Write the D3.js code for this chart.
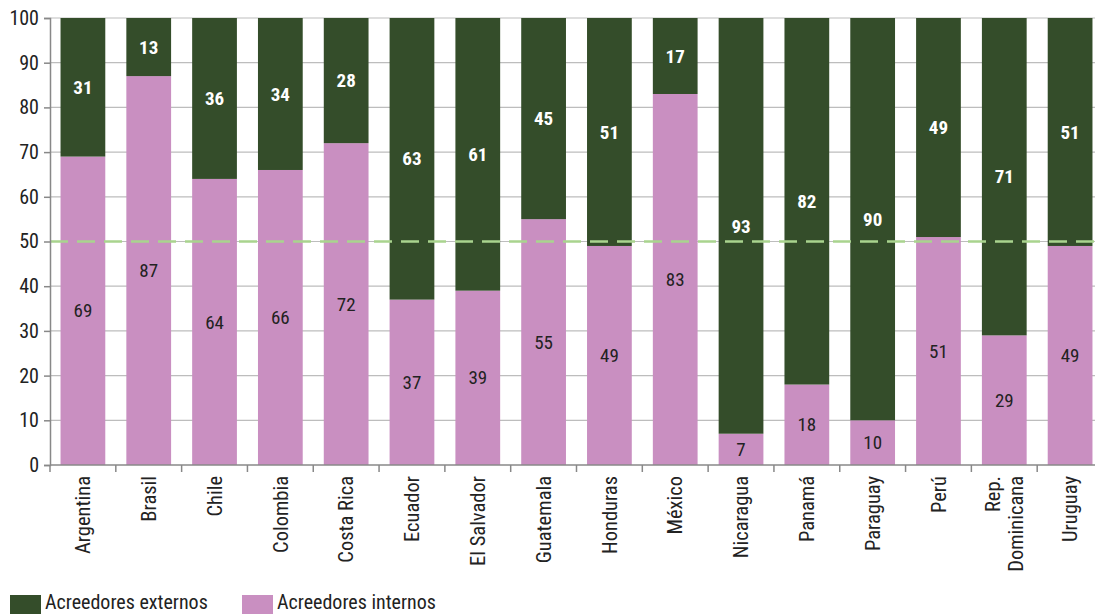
<!DOCTYPE html>
<html><head><meta charset="utf-8">
<script src="https://cdn.jsdelivr.net/npm/d3@7"></script>
<style>body{margin:0;background:#fff}svg{display:block}text{font-family:"Roboto Condensed","Liberation Sans Narrow","DejaVu Sans Condensed",sans-serif}</style>
</head><body><svg id="c" width="1095" height="614"></svg>
<script>
const categories = ["Argentina","Brasil","Chile","Colombia","Costa Rica","Ecuador","El Salvador","Guatemala","Honduras","México","Nicaragua","Panamá","Paraguay","Perú","Rep.|Dominicana","Uruguay"];
const internos = [69,87,64,66,72,37,39,55,49,83,7,18,10,51,29,49];
const externos = [31,13,36,34,28,63,61,45,51,17,93,82,90,49,71,51];
const yTicks = [0,10,20,30,40,50,60,70,80,90,100];
const seriesNames = ["Acreedores externos","Acreedores internos"];
const colors = {ext:"#344d2a", int:"#c98fc1"};

const svg = d3.select("#c");
const x = d3.scaleBand().domain(categories).range([50,1103]).paddingInner(0.32).paddingOuter(0.16);
const y = d3.scaleLinear().domain([0,100]).range([465,18]);

// gridlines
svg.append("g").selectAll("line").data(yTicks.filter(d=>d>0)).join("line")
  .attr("x1",50).attr("x2",1095).attr("y1",d=>y(d)).attr("y2",d=>y(d))
  .attr("stroke","#bdbdbd").attr("stroke-width",1.2);

const data = categories.map((c,i)=>({c, int:internos[i], ext:externos[i]}));
const bars = svg.append("g").selectAll("g").data(data).join("g");
bars.append("rect").attr("x",d=>x(d.c)).attr("width",x.bandwidth())
  .attr("y",d=>y(d.int)).attr("height",d=>y(0)-y(d.int)).attr("fill",colors.int);
bars.append("rect").attr("x",d=>x(d.c)).attr("width",x.bandwidth())
  .attr("y",d=>y(100)).attr("height",d=>y(d.int)-y(100)).attr("fill",colors.ext);
bars.append("text").attr("x",d=>x(d.c)+x.bandwidth()/2).attr("y",d=>y(d.int/2))
  .attr("text-anchor","middle").attr("dy","0.35em").attr("font-size",19).attr("fill","#222")
  .text(d=>d.int);
bars.append("text").attr("x",d=>x(d.c)+x.bandwidth()/2).attr("y",d=>y(d.int+d.ext/2))
  .attr("text-anchor","middle").attr("dy","0.35em").attr("font-size",19).attr("font-weight","bold").attr("fill","#fff")
  .text(d=>d.ext);

// 50% line
svg.append("line").attr("x1",50).attr("x2",1095).attr("y1",y(50)).attr("y2",y(50))
  .attr("stroke","#a9d48e").attr("stroke-width",2.5).attr("stroke-dasharray","18,9");

// y axis
const ya = svg.append("g").attr("transform","translate(50,0)")
  .call(d3.axisLeft(y).tickValues(yTicks).tickSize(6).tickPadding(5));
ya.select(".domain").attr("stroke","#888").attr("stroke-width",1.5);
ya.selectAll(".tick line").attr("stroke","#888").attr("stroke-width",1.5);
ya.selectAll(".tick text").attr("font-size",20).attr("fill","#222")
  .style("font-family",'"Roboto Condensed","Liberation Sans Narrow","DejaVu Sans Condensed",sans-serif');

// x axis
svg.append("line").attr("x1",50).attr("x2",1095).attr("y1",465).attr("y2",465).attr("stroke","#888").attr("stroke-width",1.5);
const step = x.step();
svg.append("g").selectAll("line").data(categories.map(c=>x(c)-x.paddingInner()*step/2)).join("line")
  .attr("x1",d=>d).attr("x2",d=>d).attr("y1",465).attr("y2",472).attr("stroke","#888").attr("stroke-width",1.5);

const xl = svg.append("g").selectAll("text").data(categories).join("text")
  .attr("transform",d=>`translate(${x(d)+x.bandwidth()/2},476) rotate(-90)`)
  .attr("text-anchor","end").attr("font-size",20.5).attr("fill","#222");
xl.each(function(d){
  const lines = d.split("|");
  const t = d3.select(this);
  lines.forEach((l,i)=>{
    t.append("tspan").attr("x",0).attr("dy", i===0 ? (0.35 - (lines.length-1)*0.55)+"em" : "1.1em").text(l);
  });
});

// legend
const lg = svg.append("g").attr("transform","translate(10,595)");
[["ext",0],["int",232]].forEach(([k,dx],i)=>{
  lg.append("rect").attr("x",dx).attr("y",0).attr("width",31).attr("height",19).attr("fill",colors[k]);
  lg.append("text").attr("x",dx+35).attr("y",14).attr("font-size",20).attr("fill","#222").text(seriesNames[i]);
});
</script></body></html>
